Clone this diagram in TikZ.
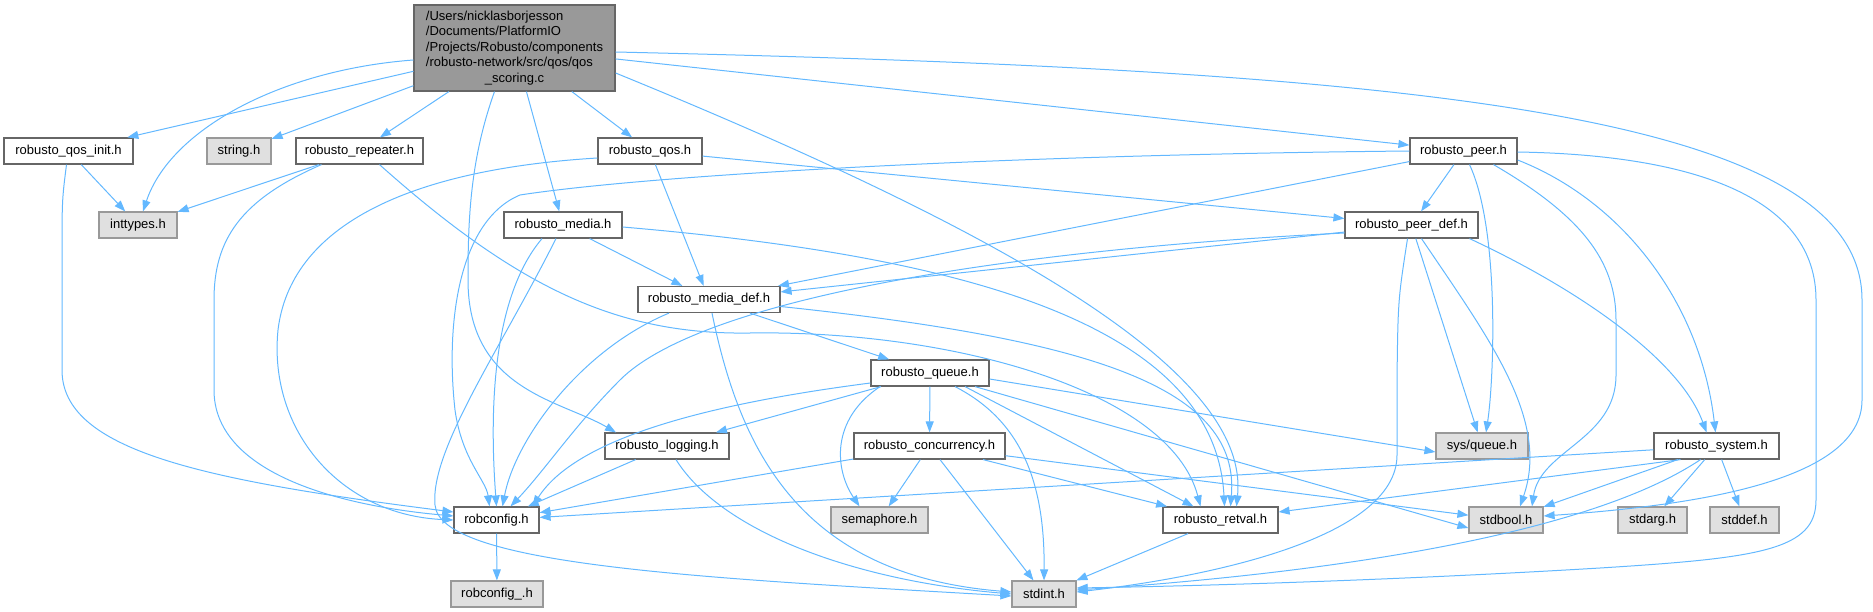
\documentclass[tikz,border=0pt]{standalone}
\usepackage{fontspec}
\setmainfont{Liberation Sans}
\usetikzlibrary{arrows.meta}
\definecolor{edgec}{HTML}{63B8FF}
\definecolor{wb}{HTML}{666666}
\definecolor{gb}{HTML}{999999}
\definecolor{gf}{HTML}{E0E0E0}
\begin{document}
\begin{tikzpicture}[x=1pt,y=-1pt,
  box/.style={draw=wb,fill=white,line width=1.2pt,minimum height=26pt,inner sep=0pt,font=\fontsize{13}{15.5}\selectfont},
  sysbox/.style={box,draw=gb,fill=gf},
  mainbox/.style={box,fill=gb},
  dep/.style={draw=edgec,line width=1pt,-{Triangle[length=11pt,width=8pt]}}]
\useasboundingbox (0,0) rectangle (1873,612);

% nodes
\node[mainbox,minimum width=201pt,minimum height=86pt] (main) at (514.5,48)
 {\begin{tabular}{@{}l@{}}/Users/nicklasborjesson\\/Documents/PlatformIO\\/Projects/Robusto/components\\/robusto-network/src/qos/qos\\\multicolumn{1}{@{}c@{}}{\_scoring.c}\end{tabular}};
\node[box,minimum width=129pt] (qosinit) at (68.5,151) {robusto\_qos\_init.h};
\node[sysbox,minimum width=64pt] (string) at (239,151) {string.h};
\node[box,minimum width=127pt] (repeater) at (359.5,151) {robusto\_repeater.h};
\node[box,minimum width=104pt] (qos) at (650,151) {robusto\_qos.h};
\node[box,minimum width=107pt] (peer) at (1463.5,151) {robusto\_peer.h};
\node[sysbox,minimum width=78pt] (inttypes) at (138,225) {inttypes.h};
\node[box,minimum width=118pt] (media) at (563,225) {robusto\_media.h};
\node[box,minimum width=133pt] (peerdef) at (1411.5,225) {robusto\_peer\_def.h};
\node[box,minimum width=142pt] (mediadef) at (709,299.5) {robusto\_media\_def.h};
\node[box,minimum width=118pt] (queue) at (930,373) {robusto\_queue.h};
\node[box,minimum width=124pt] (logging) at (667,446) {robusto\_logging.h};
\node[box,minimum width=151pt] (concurrency) at (929.5,446) {robusto\_concurrency.h};
\node[sysbox,minimum width=92pt] (sysqueue) at (1482,446) {sys/queue.h};
\node[box,minimum width=125pt] (system) at (1716.5,446) {robusto\_system.h};
\node[box,minimum width=85pt] (robconfig) at (496.5,520) {robconfig.h};
\node[sysbox,minimum width=97pt] (semaphore) at (879.5,520) {semaphore.h};
\node[box,minimum width=115pt] (retval) at (1220.5,520) {robusto\_retval.h};
\node[sysbox,minimum width=74pt] (stdbool) at (1506,520) {stdbool.h};
\node[sysbox,minimum width=69pt] (stdarg) at (1652.5,520) {stdarg.h};
\node[sysbox,minimum width=69pt] (stddef) at (1744.5,520) {stddef.h};
\node[sysbox,minimum width=92pt] (robconfigu) at (497,594) {robconfig\_.h};
\node[sysbox,minimum width=64pt] (stdint) at (1044,594) {stdint.h};

% main
\draw[dep] (main) -- (qosinit);
\draw[dep] ([yshift=-12pt]main.west) .. controls (280,70) and (170,130) .. ([xshift=5pt]inttypes.north);
\draw[dep] (main) -- (string);
\draw[dep] (main) -- (repeater);
\draw[dep] ([xshift=-20pt]main.south) .. controls (470,160) and (468,220) .. (468,280) .. controls (468,390) and (560,400) .. ([xshift=-51pt]logging.north);
\draw[dep] (main) -- (media);
\draw[dep] (main) -- (qos);
\draw[dep] (main) -- (peer);
\draw[dep] ([yshift=-25pt]main.east) .. controls (1000,230) and (1250,370) .. ([xshift=16pt]retval.north);
\draw[dep] ([yshift=-4pt]main.east) .. controls (1400,70) and (1862,110) .. (1862,300) -- (1862,400) .. controls (1862,480) and (1700,505) .. ([yshift=4pt]stdbool.east);

% qos_init
\draw[dep] (qosinit) -- (inttypes);
\draw[dep] ([xshift=-2pt]qosinit.south) .. controls (62,200) .. (62,260) -- (62,370) .. controls (62,450) and (200,480) .. ([yshift=8pt]robconfig.west);

% repeater
\draw[dep] (repeater) -- (inttypes);
\draw[dep] ([xshift=-38pt]repeater.south) .. controls (240,200) and (214,240) .. (214,300) -- (214,390) .. controls (214,470) and (330,505) .. ([yshift=4pt]robconfig.west);
\draw[dep] ([xshift=20pt]repeater.south) .. controls (520,290) and (620,335) .. (750,333) .. controls (950,330) and (1170,390) .. ([xshift=-20pt]retval.north);

% qos
\draw[dep] ([yshift=-7pt]qos.west) .. controls (400,170) and (290,230) .. (278,330) .. controls (268,430) and (340,515) .. (robconfig.west);
\draw[dep] (qos) -- (mediadef);
\draw[dep] (qos) -- (peerdef);

% peer
\draw[dep] (peer) -- (peerdef);
\draw[dep] (peer) -- (mediadef);
\draw[dep] (peer.west) .. controls (1000,155) and (650,175) .. (520,195) .. controls (460,220) and (445,320) .. (455,410) .. controls (462,460) and (486,480) .. ([xshift=-7pt]robconfig.north);
\draw[dep] ([xshift=6pt]peer.south) .. controls (1500,230) and (1494,380) .. ([xshift=4pt]sysqueue.north);
\draw[dep] ([xshift=30pt]peer.south) .. controls (1580,215) and (1616,260) .. (1616,320) -- (1616,375) .. controls (1616,440) and (1540,450) .. ([xshift=26pt]stdbool.north);
\draw[dep] ([yshift=-9pt]peer.east) .. controls (1620,200) and (1700,300) .. ([xshift=-1pt]system.north);
\draw[dep] ([yshift=-1pt]peer.east) .. controls (1700,155) and (1816,200) .. (1816,300) -- (1816,500) .. controls (1816,550) and (1760,558) .. (1600,568) .. controls (1400,580) and (1200,586) .. ([yshift=6pt]stdint.east);

% peer_def
\draw[dep] (peerdef) -- (mediadef);
\draw[dep] ([yshift=-8pt]peerdef.west) .. controls (1000,250) and (700,300) .. (620,380) .. controls (575,425) and (545,470) .. ([xshift=14pt]robconfig.north);
\draw[dep] ([xshift=-4pt]peerdef.south) .. controls (1398,300) .. (1397,380) -- (1397,455) .. controls (1397,540) and (1200,578) .. ([yshift=2pt]stdint.east);
\draw[dep] (peerdef) -- (sysqueue);
\draw[dep] ([xshift=10pt]peerdef.south) .. controls (1490,340) and (1550,420) .. ([xshift=14pt]stdbool.north);
\draw[dep] ([xshift=58pt]peerdef.south) .. controls (1580,290) and (1680,360) .. ([xshift=-10pt]system.north);

% media
\draw[dep] (media) -- (mediadef);
\draw[dep] ([xshift=-21pt]media.south) .. controls (490,300) and (490,420) .. (robconfig.north);
\draw[dep] ([xshift=-7pt]media.south) .. controls (500,350) and (430,450) .. (435,505) .. controls (440,565) and (700,578) .. ([yshift=-2pt]stdint.west);
\draw[dep] ([yshift=-2pt]media.east) .. controls (950,255) and (1215,320) .. ([xshift=4pt]retval.north);

% media_def
\draw[dep] ([xshift=-40pt]mediadef.south) .. controls (580,350) and (515,440) .. ([xshift=6pt]robconfig.north);
\draw[dep] ([xshift=3pt]mediadef.south) .. controls (740,450) and (800,575) .. ([yshift=2pt]stdint.west);
\draw[dep] (mediadef) -- (queue);
\draw[dep] ([yshift=-7pt]mediadef.east) .. controls (1100,340) and (1240,390) .. ([xshift=10pt]retval.north);

% queue
\draw[dep] ([yshift=-10pt]queue.west) .. controls (700,405) and (575,440) .. ([xshift=36pt]robconfig.north);
\draw[dep] (queue) -- (logging);
\draw[dep] ([xshift=-50pt]queue.south) .. controls (830,420) and (835,470) .. ([xshift=-20pt]semaphore.north);
\draw[dep] (queue) -- (concurrency);
\draw[dep] ([xshift=25pt]queue.south) .. controls (1020,420) and (1045,480) .. (stdint.north);
\draw[dep] ([xshift=35pt]queue.south) -- ([xshift=-27pt]retval.north);
\draw[dep] ([xshift=45pt]queue.south) -- ([yshift=-8pt]stdbool.west);
\draw[dep] ([yshift=-6pt]queue.east) -- ([yshift=-6pt]sysqueue.west);

% concurrency
\draw[dep] (concurrency) -- (robconfig);
\draw[dep] (concurrency) -- (semaphore);
\draw[dep] (concurrency) -- (stdint);
\draw[dep] (concurrency) -- (retval);
\draw[dep] (concurrency) -- (stdbool);

% logging
\draw[dep] (logging) -- (robconfig);
\draw[dep] ([xshift=9pt]logging.south) .. controls (720,530) and (850,580) .. (stdint.west);

% system
\draw[dep] (system) -- (robconfig);
\draw[dep] ([xshift=-36pt]system.south) -- ([yshift=8pt]retval.east);
\draw[dep] (system) -- (stdbool);
\draw[dep] (system) -- (stdarg);
\draw[dep] (system) -- (stddef);
\draw[dep] ([xshift=-16pt]system.south) .. controls (1580,540) and (1300,575) .. ([yshift=4pt]stdint.east);

% retval, robconfig
\draw[dep] (retval) -- (stdint);
\draw[dep] (robconfig) -- (robconfigu);
\end{tikzpicture}
\end{document}
